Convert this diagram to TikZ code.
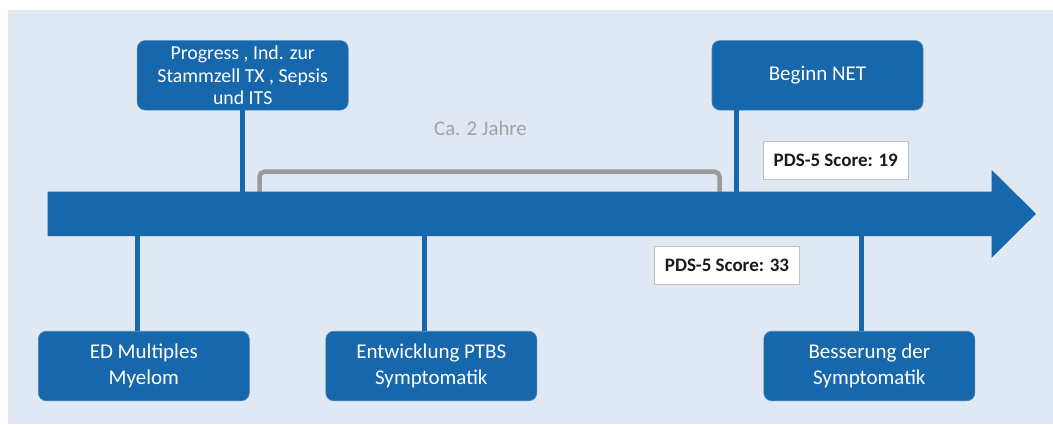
\documentclass[tikz,border=0pt]{standalone}
\usepackage{fontspec}
\setmainfont{Carlito}
\definecolor{bg}{HTML}{DFE8F3}
\definecolor{blu}{HTML}{1767AC}
\definecolor{brk}{HTML}{9A9A9A}
\definecolor{lbl}{HTML}{A3A3A3}
\definecolor{sbd}{HTML}{C0C0C0}
\definecolor{stx}{HTML}{1A1A1A}
\begin{document}
\begin{tikzpicture}[x=1pt,y=-1pt,
  evt/.style={fill=blu, draw=blu!80!white, line width=0.6pt, rounded corners=8pt, text=white, align=center,
    inner sep=0pt, minimum width=211pt, minimum height=69.5pt},
  topfont/.style={font=\fontsize{19.8}{22.3}\selectfont},
  botfont/.style={font=\fontsize{21}{26.7}\selectfont},
  score/.style={fill=white, draw=sbd, line width=1pt, text=stx, inner sep=0pt,
    minimum width=145pt, minimum height=37.6pt, font=\fontsize{19}{22}\selectfont\bfseries},
  conn/.style={draw=blu, line width=4.8pt},
  brace/.style={draw=brk, line width=4.5pt, rounded corners=5pt},
  lbltext/.style={text=lbl, font=\fontsize{20.8}{24}\selectfont}]
\useasboundingbox (0,0) rectangle (1053,424);
\fill[bg] (8,10) rectangle (1053,424);

% shaft edge coordinates
\coordinate (s0) at (47.7,191.7);
\coordinate (h1) at (991.7,191.7);
\coordinate (h2) at (991.7,170);
\coordinate (tip) at (1036,213.8);
\coordinate (h3) at (991.7,257.7);
\coordinate (h4) at (991.7,236);
\coordinate (s1) at (47.7,236);

% bracket
\coordinate (b1) at (259.5,194);
\coordinate (b2) at (259.5,171.7);
\coordinate (b3) at (719.5,171.7);
\coordinate (b4) at (719.5,194);
\draw[brace] (b1) -- (b2) -- (b3) -- (b4);
\node[lbltext] (dur) at (480.5,128) {Ca. 2 Jahre};

% arrow
\fill[blu] (s0) -- (h1) -- (h2) -- (tip) -- (h3) -- (h4) -- (s1) -- cycle;

% events
\node[evt, topfont] (prog) at (242.7,75.3) {Progress , Ind. zur\\Stammzell TX , Sepsis\\und ITS};
\node[evt, botfont] (net) at (817.5,75.3) {Beginn NET};
\node[evt, botfont] (ed) at (143.8,366) {ED Multiples\\Myelom};
\node[evt, botfont] (ptbs) at (431.3,366) {Entwicklung PTBS\\Symptomatik};
\node[evt, botfont] (bess) at (869.3,366) {Besserung der\\Symptomatik};

% connector endpoints on the shaft
\coordinate (cprog) at (242.3,191.7);
\coordinate (cnet) at (736.3,191.7);
\coordinate (ced) at (137.3,236);
\coordinate (cptbs) at (424.3,236);
\coordinate (cbess) at (861.3,236);

\draw[conn] (prog.south -| cprog) -- (cprog);
\draw[conn] (net.south -| cnet) -- (cnet);
\draw[conn] (ed.north -| ced) -- (ced);
\draw[conn] (ptbs.north -| cptbs) -- (cptbs);
\draw[conn] (bess.north -| cbess) -- (cbess);

% scores
\node[score] (s19) at (835.8,160.5) {PDS-5 Score: 19};
\node[score] (s33) at (727,265.5) {PDS-5 Score: 33};
\end{tikzpicture}
\end{document}
